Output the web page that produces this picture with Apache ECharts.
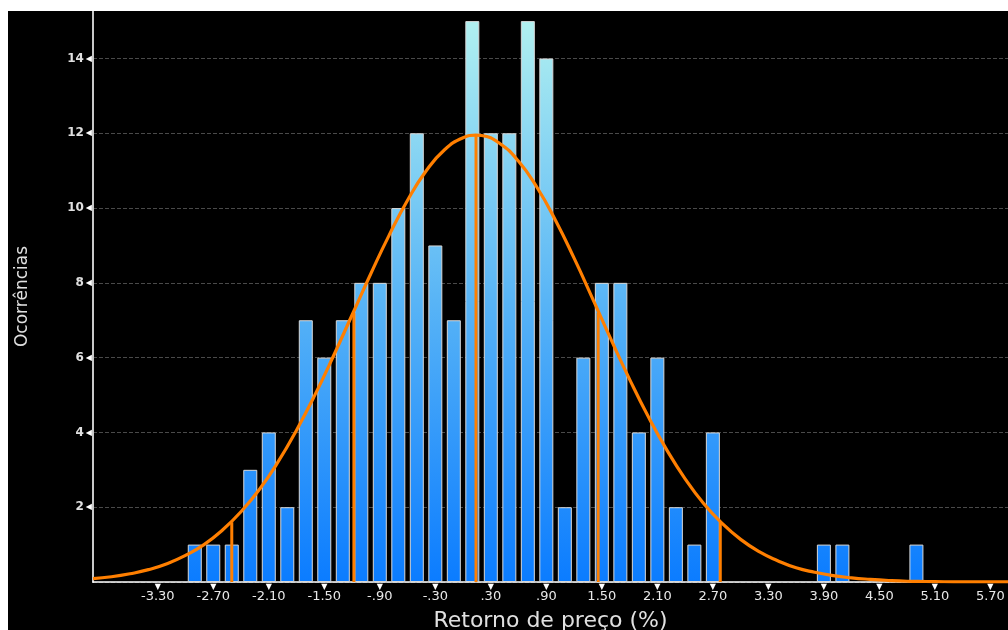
<!DOCTYPE html>
<html>
<head>
<meta charset="utf-8">
<script src="https://cdn.jsdelivr.net/npm/echarts@6/dist/echarts.min.js"></script>
<style>
  html, body { margin: 0; padding: 0; background: #ffffff; }
  #chart { position: absolute; left: 8px; top: 11px; width: 1000px; height: 619px; background: #000; }
</style>
</head>
<body>
<div id="chart"></div>
<script>
// Histogram bins (centre of each 0.2-wide bin) and counts
const binCenters = [-2.9, -2.7, -2.5, -2.3, -2.1, -1.9, -1.7, -1.5, -1.3, -1.1, -0.9, -0.7, -0.5, -0.3, -0.1,
                    0.1, 0.3, 0.5, 0.7, 0.9, 1.1, 1.3, 1.5, 1.7, 1.9, 2.1, 2.3, 2.5, 2.7, 3.9, 4.1, 4.9];
const binCounts  = [1, 1, 1, 3, 4, 2, 7, 6, 7, 8, 8, 10, 12, 9, 7,
                    15, 12, 12, 15, 14, 2, 6, 8, 8, 4, 6, 2, 1, 4, 1, 1, 1];

// Fitted normal curve
const curveX = [-4.0, -3.8, -3.6, -3.4, -3.2, -3.0, -2.8, -2.6, -2.4, -2.2, -2.0, -1.8, -1.6, -1.4, -1.2, -1.0,
                -0.8, -0.6, -0.4, -0.2, 0.0, 0.14, 0.2, 0.4, 0.6, 0.8, 1.0, 1.2, 1.4, 1.6, 1.8, 2.0, 2.2, 2.4,
                2.6, 2.8, 3.0, 3.2, 3.4, 3.6, 3.8, 4.0, 4.2, 4.4, 4.6, 4.8, 5.0, 5.2, 5.4, 5.6, 5.89];
const curveY = [0.09, 0.14, 0.22, 0.33, 0.49, 0.71, 1.00, 1.39, 1.88, 2.48, 3.21, 4.06, 5.01, 6.05, 7.14, 8.23,
                9.27, 10.21, 10.99, 11.56, 11.88, 11.95, 11.94, 11.72, 11.25, 10.55, 9.67, 8.66, 7.58, 6.48, 5.42, 4.43, 3.54, 2.76,
                2.10, 1.57, 1.14, 0.81, 0.57, 0.38, 0.26, 0.17, 0.11, 0.07, 0.04, 0.02, 0.013, 0.007, 0.004, 0.002, 0.001];

// Vertical markers at mean, ±1 sd, ±2 sd (x position, height up to curve)
const sigmaX = [-2.50, -1.18, 0.14, 1.46, 2.78];
const sigmaY = [1.60, 7.20, 11.95, 7.20, 1.60];

// Axis ticks
const xTickValues = [-3.3, -2.7, -2.1, -1.5, -0.9, -0.3, 0.3, 0.9, 1.5, 2.1, 2.7, 3.3, 3.9, 4.5, 5.1, 5.7];
const xTickLabels = ['-3.30', '-2.70', '-2.10', '-1.50', '-.90', '-.30', '.30', '.90', '1.50', '2.10', '2.70',
                     '3.30', '3.90', '4.50', '5.10', '5.70'];
const yTickValues = [2, 4, 6, 8, 10, 12, 14];

const xTitle = 'Retorno de preço (%)';
const yTitle = 'Ocorrências';

const chart = echarts.init(document.getElementById('chart'), null, { renderer: 'canvas' });

const barGradient = {
  type: 'linear', global: true, x: 0, y: 571, x2: 0, y2: 11,
  colorStops: [
    { offset: 0, color: '#0b7cff' },
    { offset: 0.5, color: '#58b4f6' },
    { offset: 1, color: '#b0f0f0' }
  ]
};

const series = [
  {
    type: 'bar',
    data: binCenters.map((x, i) => [x, binCounts[i]]),
    barWidth: 14,
    itemStyle: { color: barGradient, borderColor: '#d8d8d8', borderWidth: 1 },
    z: 2
  },
  {
    type: 'line',
    data: curveX.map((x, i) => [x, curveY[i]]),
    smooth: true,
    showSymbol: false,
    lineStyle: { color: '#ff7f00', width: 3.2 },
    z: 4
  }
];
sigmaX.forEach((x, i) => {
  series.push({
    type: 'line',
    data: [[x, 0], [x, sigmaY[i]]],
    showSymbol: false,
    lineStyle: { color: '#ff7f00', width: 3 },
    z: 3
  });
});

chart.setOption({
  backgroundColor: '#000000',
  animation: false,
  textStyle: { fontFamily: 'DejaVu Sans' },
  grid: { left: 85, top: 0, right: 0, bottom: 48, containLabel: false, outerBoundsMode: 'none' },
  xAxis: {
    type: 'value',
    min: -4.0,
    max: 5.89,
    name: xTitle,
    nameLocation: 'middle',
    nameGap: 28,
    nameTextStyle: { color: '#e0e0e0', fontSize: 22, fontFamily: 'DejaVu Sans' },
    axisLine: { show: true, onZero: false, lineStyle: { color: '#ffffff', width: 1.5 } },
    axisTick: { show: false },
    splitLine: { show: false },
    axisLabel: {
      customValues: xTickValues,
      margin: 1,
      color: '#e8e8e8',
      hideOverlap: false,
      formatter: function (v) {
        let idx = xTickValues.findIndex(t => Math.abs(t - v) < 1e-6);
        return '{t|▼}\n{v|' + (idx >= 0 ? xTickLabels[idx] : '') + '}';
      },
      rich: {
        t: { fontSize: 8, lineHeight: 7, color: '#ffffff' },
        v: { fontSize: 13, lineHeight: 13, color: '#e8e8e8', fontFamily: 'DejaVu Sans' }
      }
    }
  },
  yAxis: {
    type: 'value',
    min: 0,
    max: 15.27,
    interval: 2,
    name: yTitle,
    nameLocation: 'middle',
    nameRotate: 90,
    nameGap: 62,
    nameTextStyle: { color: '#e0e0e0', fontSize: 17, fontFamily: 'DejaVu Sans' },
    axisLine: { show: true, onZero: false, lineStyle: { color: '#c8c8c8', width: 2 } },
    axisTick: { show: false },
    splitLine: { show: true, showMaxLine: false, lineStyle: { color: '#4a4a4a', type: 'dashed', width: 1 } },
    axisLabel: {
      customValues: yTickValues,
      margin: 1,
      formatter: function (v) { return '{v|' + v + '}{t|◀}'; },
      rich: {
        v: { fontSize: 12, fontWeight: 'bold', color: '#e0e0e0', padding: [0, 2, 0, 0] },
        t: { fontSize: 8, color: '#ffffff' }
      }
    }
  },
  series: series
});
</script>
</body>
</html>
